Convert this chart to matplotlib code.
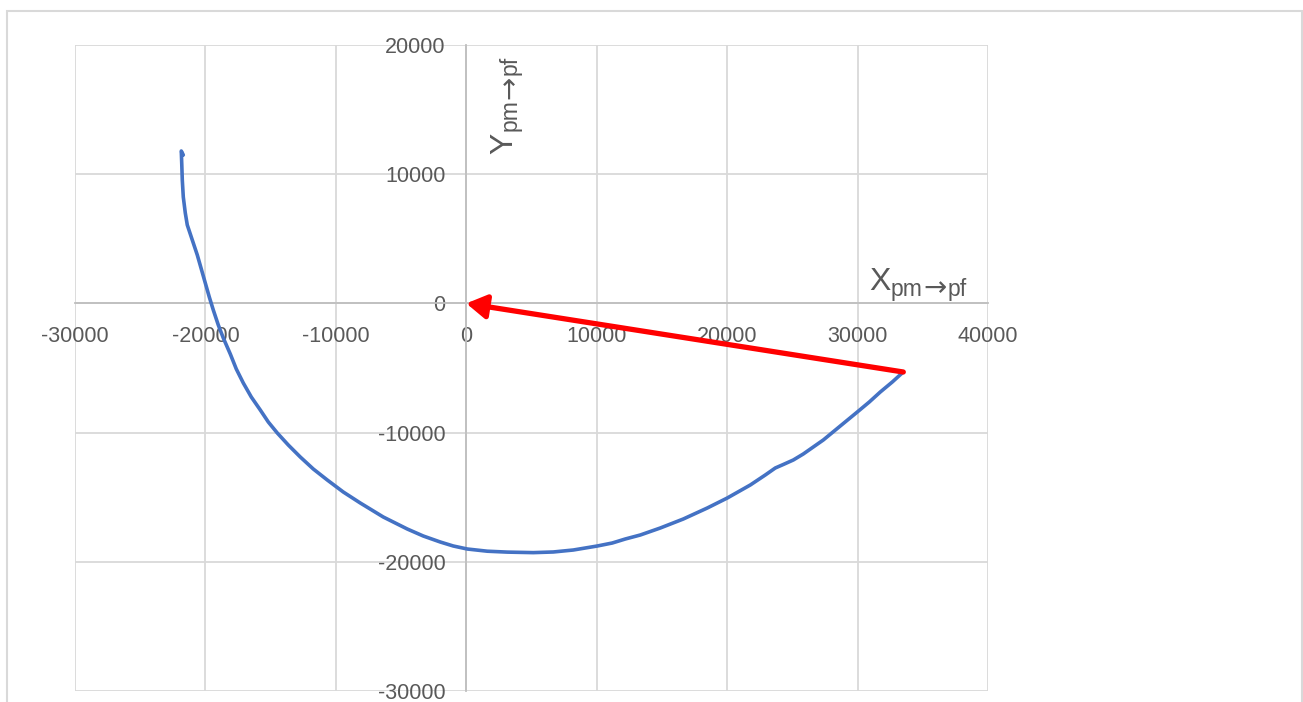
import matplotlib
matplotlib.use("Agg")
import matplotlib.pyplot as plt
from matplotlib.patches import Rectangle

# ---- data ----
curve_x = [-21697, -21851, -21812, -21774, -21697, -21544, -21391, -21161, -20931,
           -20624, -20317, -20011, -19704, -19397, -19014, -18630, -18094, -17634,
           -17097, -16484, -15794, -15180, -14490, -13647, -12727, -11730, -10657,
           -9430, -8127, -6364, -4523, -3297, -1993, -997, 77, 1610, 3143, 5137,
           6670, 8204, 10044, 11194, 12191, 13341, 14874, 16637, 18478, 20011,
           21774, 22924, 23691, 24304, 25071, 25837, 26604, 27371, 28674, 29978,
           30898, 31741, 32661, 33505]
curve_y = [11487, 11796, 10712, 9551, 8235, 6997, 6068, 5371, 4675,
           3746, 2663, 1579, 495, -511, -1672, -2678, -3916, -5077,
           -6161, -7245, -8251, -9180, -10031, -10960, -11889, -12817, -13669,
           -14598, -15449, -16533, -17462, -18004, -18468, -18777, -19010, -19180, -19250, -19290,
           -19240, -19087, -18777, -18545, -18235, -17926, -17384, -16688, -15836, -15062,
           -14056, -13282, -12740, -12469, -12121, -11656, -11114, -10573, -9489, -8406,
           -7632, -6858, -6084, -5310]
arrow_target = (0, 0)
x_ticks = [-30000, -20000, -10000, 0, 10000, 20000, 30000, 40000]
y_ticks = [-30000, -20000, -10000, 0, 10000, 20000]
x_main, y_main = "X", "Y"
sub_parts = ["pm", "\u2192", "pf"]

W, H = 1303, 702
fig = plt.figure(figsize=(W / 100, H / 100), dpi=100)
plt.rcParams['font.family'] = ['Liberation Sans', 'DejaVu Sans']

# outer chart border
fig.patches.append(Rectangle((6.5 / W, -0.05), (1301.5 - 6.5) / W, (H - 10.5) / H + 0.05,
                             transform=fig.transFigure, fill=False,
                             edgecolor='#d9d9d9', linewidth=1.5))

ax = fig.add_axes([75 / W, (H - 691) / H, (988 - 75) / W, (691 - 45) / H])
ax.set_xlim(x_ticks[0], x_ticks[-1])
ax.set_ylim(y_ticks[0], y_ticks[-1])
ax.set_xticks(x_ticks)
ax.set_yticks(y_ticks)
ax.set_xticklabels([str(v) for v in x_ticks])
ax.set_yticklabels([str(v) for v in y_ticks])

ax.grid(True, color='#d9d9d9', linewidth=1.3, zorder=0)
ax.set_axisbelow(True)
for s in ['top', 'right']:
    ax.spines[s].set_visible(False)
for s in ['left', 'bottom']:
    ax.spines[s].set_position('zero')
    ax.spines[s].set_color('#bfbfbf')
    ax.spines[s].set_linewidth(1.3)
    ax.spines[s].set_zorder(1)
ax.tick_params(axis='both', length=0, labelsize=15.5, labelcolor='#595959')
ax.tick_params(axis='x', pad=16)
ax.tick_params(axis='y', pad=15)

ax.plot(curve_x, curve_y, color='#4472C4', linewidth=2.6,
        solid_capstyle='round', solid_joinstyle='round', zorder=3)

ax.annotate('', xy=arrow_target, xytext=(curve_x[-1], curve_y[-1]),
            arrowprops=dict(arrowstyle='-|>,head_length=0.4,head_width=0.24',
                            color='#ff0000', lw=3.8, mutation_scale=30,
                            shrinkA=0, shrinkB=0),
            zorder=4)

lab = dict(color='#595959', rotation_mode='anchor', ha='left', va='baseline')
# X label pieces (pixel positions along the baseline)
fig.text(869 / W, (H - 290) / H, x_main, fontsize=23, **lab)
fig.text(891 / W, (H - 296) / H, sub_parts[0], fontsize=16.5, **lab)
fig.text(923 / W, (H - 296) / H, sub_parts[1], fontsize=20,
         family=['DejaVu Sans'], **lab)
fig.text(948 / W, (H - 296) / H, sub_parts[2], fontsize=16.5, **lab)
# Y label pieces (rotated)
fig.text(512 / W, (H - 154) / H, y_main, fontsize=23, rotation=90, **lab)
fig.text(517 / W, (H - 131) / H, sub_parts[0], fontsize=16.5, rotation=90, **lab)
fig.text(517 / W, (H - 99) / H, sub_parts[1], fontsize=20, rotation=90,
         family=['DejaVu Sans'], **lab)
fig.text(517 / W, (H - 75) / H, sub_parts[2], fontsize=16.5, rotation=90, **lab)

fig.savefig('out.png', dpi=100)
